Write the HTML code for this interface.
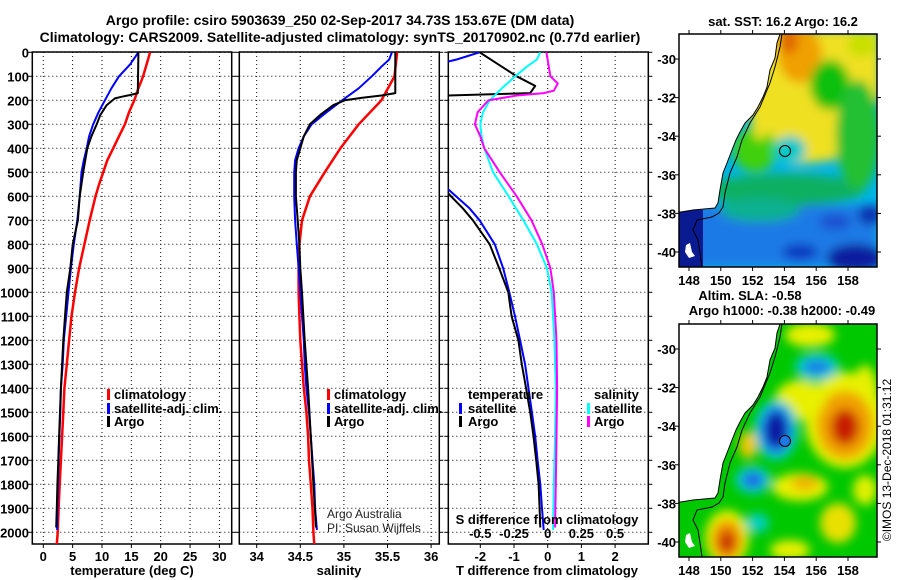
<!DOCTYPE html>
<html><head><meta charset="utf-8">
<style>
html,body{margin:0;padding:0;background:#fff;}
svg{display:block;font-family:"Liberation Sans",sans-serif;}
.b{font-weight:bold;font-size:13px;fill:#000;}
.grid{stroke:#000;stroke-width:1;stroke-dasharray:1,3;}
.frame{fill:none;stroke:#000;stroke-width:1.5;}
</style></head>
<body>
<svg id="chart" width="900" height="580" viewBox="0 0 900 580">
<defs>
<clipPath id="cp1"><rect x="32.3" y="52" width="199.4" height="492"/></clipPath>
<clipPath id="cp2"><rect x="239.3" y="52" width="200" height="492"/></clipPath>
<clipPath id="cp3"><rect x="448.3" y="52" width="200" height="492"/></clipPath>
<clipPath id="cpm"><rect x="679" y="34" width="198" height="233"/></clipPath>
<filter id="bl" x="-50%" y="-50%" width="200%" height="200%"><feGaussianBlur stdDeviation="5"/></filter>
</defs>
<text class="b" x="340" y="25" text-anchor="middle" style="font-size:14px">Argo profile: csiro 5903639_250 02-Sep-2017 34.73S 153.67E (DM data)</text>
<text class="b" x="340" y="42" text-anchor="middle" style="font-size:14px">Climatology: CARS2009. Satellite-adjusted climatology: synTS_20170902.nc (0.77d earlier)</text>
<g id="axes"></g>
<g id="series"></g>

<g>
<rect x="107" y="389" width="3" height="11" fill="#f00"/><text class="b" x="114" y="399">climatology</text>
<rect x="107" y="403" width="3" height="11" fill="#00f"/><text class="b" x="114" y="413">satellite-adj. clim.</text>
<rect x="107" y="416" width="3" height="11" fill="#000"/><text class="b" x="114" y="426">Argo</text>
</g>
<g>
<rect x="327" y="389" width="3" height="11" fill="#f00"/><text class="b" x="334" y="399">climatology</text>
<rect x="327" y="403" width="3" height="11" fill="#00f"/><text class="b" x="334" y="413">satellite-adj. clim.</text>
<rect x="327" y="416" width="3" height="11" fill="#000"/><text class="b" x="334" y="426">Argo</text>
</g>
<text x="327" y="518" style="font-size:12px" fill="#222">Argo Australia</text>
<text x="327" y="532" style="font-size:12px" fill="#222">PI: Susan Wijffels</text>
<g>
<text class="b" x="468" y="399">temperature</text>
<rect x="459" y="403" width="3" height="11" fill="#00f"/><text class="b" x="468" y="413">satellite</text>
<rect x="459" y="416" width="3" height="11" fill="#000"/><text class="b" x="468" y="426">Argo</text>
<text class="b" x="594" y="399">salinity</text>
<rect x="587" y="403" width="3" height="11" fill="#0ff"/><text class="b" x="594" y="413">satellite</text>
<rect x="587" y="416" width="3" height="11" fill="#f0f"/><text class="b" x="594" y="426">Argo</text>
</g>
<text class="b" x="547" y="524" text-anchor="middle">S difference from climatology</text>

<g>
<g clip-path="url(#cpm)">
<rect x="679" y="34" width="198" height="233" fill="#00b4e6"/>
<g filter="url(#bl)">
<rect x="679" y="205" width="198" height="62" fill="#1e7ae6"/>
<ellipse cx="855" cy="258" rx="28" ry="14" fill="#0a1e9e"/>
<ellipse cx="800" cy="252" rx="18" ry="8" fill="#1038c0"/>
<ellipse cx="835" cy="222" rx="16" ry="8" fill="#1a50d0"/>
<ellipse cx="870" cy="215" rx="12" ry="10" fill="#1030b0"/>
<ellipse cx="785" cy="190" rx="80" ry="16" fill="#10b060"/>
<ellipse cx="760" cy="210" rx="40" ry="12" fill="#10b090"/>
<path d="M765,30 L880,30 L880,100 L845,120 L835,160 L790,165 L770,140 L760,120 Z" fill="#f0e020"/>
<ellipse cx="800" cy="55" rx="22" ry="28" fill="#f0a000"/>
<ellipse cx="788" cy="40" rx="10" ry="14" fill="#e06800"/>
<ellipse cx="830" cy="85" rx="20" ry="25" fill="#10c010"/>
<ellipse cx="858" cy="135" rx="22" ry="55" fill="#20c030"/>
<ellipse cx="862" cy="45" rx="15" ry="12" fill="#c8e000"/>
<ellipse cx="755" cy="150" rx="22" ry="22" fill="#40d010"/>
<ellipse cx="790" cy="150" rx="16" ry="14" fill="#00c8c8"/>
<ellipse cx="760" cy="110" rx="10" ry="30" fill="#f0e020"/>
</g>
<rect x="679" y="210" width="24" height="57" fill="#0a1a90"/>
<path d="M679,34 L780,34 L777,43 L775,58 L770,70 L767,87 L763,97 L758,107 L753,115 L745,123 L740,132 L736,140 L732,150 L727,163 L723,173 L720,190 L718,203 L715,208 L693,210 L681,212 L679,212 Z" fill="#fff" stroke="#000" stroke-width="1"/>
<path d="M782,34 L780,47 L775,67 L770,83 L760,107 L750,123 L742,140 L737,157 L730,173 L725,193 L723,207 L719,213 L712,217 L697,220 L693,230 L698,240 L700,253 L702,267" fill="none" stroke="#000" stroke-width="1"/>
<path d="M686,245 L690,243 L692,252 L695,256 L689,258 L685,252 Z" fill="#fff"/>
<circle cx="785" cy="151" r="5.5" fill="none" stroke="#000" stroke-width="1"/>
</g>
<rect x="679" y="34" width="198" height="233" class="frame"/>
</g>
<g transform="translate(0,290)">
<g clip-path="url(#cpm)">
<rect x="679" y="34" width="198" height="233" fill="#00c800"/>
<g filter="url(#bl)">
<ellipse cx="810" cy="45" rx="25" ry="12" fill="#e8f000"/>
<ellipse cx="865" cy="110" rx="14" ry="35" fill="#e0f000"/>
<ellipse cx="845" cy="130" rx="40" ry="48" fill="#e8f000"/>
<ellipse cx="845" cy="135" rx="28" ry="34" fill="#f0a000"/>
<ellipse cx="845" cy="137" rx="14" ry="18" fill="#c81e00"/>
<ellipse cx="800" cy="110" rx="25" ry="20" fill="#e8f000"/>
<ellipse cx="776" cy="140" rx="22" ry="30" fill="#00d0d0"/>
<ellipse cx="776" cy="140" rx="16" ry="24" fill="#1e78f0"/>
<ellipse cx="776" cy="140" rx="11" ry="18" fill="#0a14a0"/>
<ellipse cx="748" cy="155" rx="9" ry="14" fill="#f0c800"/>
<ellipse cx="753" cy="190" rx="18" ry="14" fill="#00d0d0"/>
<ellipse cx="753" cy="190" rx="11" ry="8" fill="#1e64e6"/>
<ellipse cx="817" cy="77" rx="22" ry="14" fill="#00d0d0"/>
<ellipse cx="817" cy="77" rx="14" ry="7" fill="#1e78e6"/>
<ellipse cx="800" cy="197" rx="28" ry="14" fill="#e8f000"/>
<ellipse cx="805" cy="193" rx="14" ry="7" fill="#f0b000"/>
<ellipse cx="838" cy="233" rx="18" ry="20" fill="#e8e000"/>
<ellipse cx="727" cy="248" rx="22" ry="28" fill="#e8f000"/>
<ellipse cx="727" cy="250" rx="15" ry="20" fill="#f09000"/>
<ellipse cx="727" cy="252" rx="8" ry="11" fill="#c83200"/>
<ellipse cx="757" cy="233" rx="12" ry="10" fill="#00d0c0"/>
<ellipse cx="865" cy="200" rx="12" ry="15" fill="#e0f000"/>
<ellipse cx="790" cy="260" rx="20" ry="10" fill="#e8f000"/>
</g>
<path d="M679,34 L780,34 L777,43 L775,58 L770,70 L767,87 L763,97 L758,107 L753,115 L745,123 L740,132 L736,140 L732,150 L727,163 L723,173 L720,190 L718,203 L715,208 L693,210 L681,212 L679,212 Z" fill="#fff" stroke="#000" stroke-width="1"/>
<path d="M782,34 L780,47 L775,67 L770,83 L760,107 L750,123 L742,140 L737,157 L730,173 L725,193 L723,207 L719,213 L712,217 L697,220 L693,230 L698,240 L700,253 L702,267" fill="none" stroke="#000" stroke-width="1"/>
<path d="M686,245 L690,243 L692,252 L695,256 L689,258 L685,252 Z" fill="#fff"/>
<circle cx="785" cy="151" r="5.5" fill="#1e78e6" stroke="#000" stroke-width="1"/>
</g>
<rect x="679" y="34" width="198" height="233" class="frame"/>
</g>
<text class="b" x="783" y="26" text-anchor="middle">sat. SST: 16.2 Argo: 16.2</text>
<text class="b" x="750" y="300" text-anchor="middle">Altim. SLA: -0.58</text>
<text class="b" x="782" y="315" text-anchor="middle">Argo h1000: -0.38 h2000: -0.49</text>
<text x="891" y="460" text-anchor="middle" transform="rotate(-90 891 460)" style="font-size:12px">©IMOS 13-Dec-2018 01:31:12</text>
</svg>
<script>
// ---- data ----
const depthTicks = [0,100,200,300,400,500,600,700,800,900,1000,1100,1200,1300,1400,1500,1600,1700,1800,1900,2000];
const tempTicks = [0,5,10,15,20,25,30];
const salTicks = [34,34.5,35,35.5,36];
const salTickLabels = ["34","34.5","35","35.5","36"];
const dTTicks = [-2,-1,0,1,2];
const dSTicks = [-0.5,-0.25,0,0.25,0.5];
const dSTickLabels = ["-0.5","-0.25","0","0.25","0.5"];
const latTicks = [-30,-32,-34,-36,-38,-40];
const lonTicks = [148,150,152,154,156,158];

const climTDepth = [0,100,150,200,250,300,350,400,450,500,550,600,650,700,800,900,1000,1100,1200,1300,1400,1500,1600,1700,1800,1900,2000,2050];
const climTemp = [18.2,17.0,16.2,15.5,14.6,13.9,12.9,11.9,10.9,10.2,9.5,8.9,8.4,7.9,7.0,6.1,5.4,4.8,4.4,4.0,3.6,3.4,3.2,3.0,2.8,2.6,2.45,2.3];
const climSDepth = [0,100,200,300,400,500,600,700,800,900,1000,1100,1200,1300,1400,1500,1600,1700,1800,1900,2000,2050];
const climSal = [35.61,35.58,35.43,35.17,34.96,34.78,34.61,34.52,34.49,34.48,34.48,34.49,34.5,34.52,34.54,34.57,34.59,34.6,34.62,34.64,34.65,34.66];

const satTDepth = [0,50,100,150,200,250,300,350,400,450,500,600,700,800,900,1000,1100,1200,1300,1400,1500,1600,1700,1800,1900,1990];
const satTemp = [16.2,14.8,12.9,11.6,10.5,9.4,8.5,7.8,7.4,6.9,6.5,6.2,5.8,5.2,4.7,4.3,3.9,3.5,3.3,3.0,2.9,2.75,2.6,2.5,2.4,2.35];
const satSDepth = [0,30,60,100,150,200,250,300,350,400,450,500,600,700,800,900,1000,1100,1200,1300,1400,1500,1600,1700,1800,1900,1990];
const satSal = [35.55,35.52,35.43,35.32,35.17,34.98,34.8,34.63,34.54,34.48,34.44,34.43,34.43,34.44,34.46,34.48,34.5,34.52,34.54,34.55,34.57,34.6,34.62,34.64,34.66,34.67,34.69];

const argoTDepth = [0,170,178,185,192,220,262,300,350,400,500,600,700,800,900,1000,1100,1200,1300,1400,1500,1600,1700,1800,1900,1980];
const argoTemp = [16.2,16.1,14.8,13.4,12.2,10.8,9.7,9.1,8.2,7.5,6.8,6.2,5.9,5.0,4.6,4.0,3.7,3.4,3.2,3.0,2.85,2.7,2.55,2.4,2.3,2.2];
const argoSDepth = [0,170,180,190,200,220,260,300,350,400,450,500,600,700,800,900,1000,1200,1400,1600,1800,1980];
const argoSal = [35.59,35.59,35.43,35.2,35.01,34.88,34.73,34.61,34.54,34.5,34.46,34.45,34.45,34.47,34.49,34.5,34.52,34.55,34.59,34.62,34.65,34.68];

const dTSatDepth = [0,30,40,100,200,300,400,500,565,600,650,700,800,900,1000,1100,1200,1300,1400,1500,1600,1700,1800,1900,1990];
const dTSat = [-2.02,-2.7,-3.0,-4.5,-5.3,-5.3,-4.3,-3.5,-3.0,-2.72,-2.32,-2.02,-1.57,-1.32,-1.14,-0.97,-0.82,-0.67,-0.57,-0.47,-0.37,-0.3,-0.22,-0.17,-0.12];
const dTArgoDepth = [0,50,100,140,170,180,200,300,400,500,580,600,650,700,800,900,1000,1100,1200,1300,1400,1500,1600,1700,1800,1900,1980];
const dTArgo = [-2.02,-1.47,-0.92,-0.37,-0.52,-2.97,-3.6,-5.3,-4.2,-3.3,-3.0,-2.87,-2.52,-2.22,-1.72,-1.44,-1.17,-1.07,-0.87,-0.77,-0.64,-0.52,-0.42,-0.34,-0.27,-0.24,-0.22];
const dSSatDepth = [0,30,60,100,150,200,250,300,350,400,500,600,700,800,900,1000,1200,1400,1600,1800,1990];
const dSSat = [-0.055,-0.08,-0.155,-0.24,-0.34,-0.43,-0.48,-0.5,-0.49,-0.47,-0.405,-0.29,-0.18,-0.08,-0.005,0.03,0.05,0.06,0.055,0.045,0.04];
const dSArgoDepth = [0,100,130,160,170,180,200,250,300,350,400,500,600,700,800,900,1000,1200,1400,1600,1800,1980];
const dSArgo = [-0.01,0.02,0.075,0.045,-0.03,-0.23,-0.44,-0.52,-0.54,-0.5,-0.47,-0.355,-0.23,-0.12,-0.04,0.02,0.045,0.065,0.07,0.065,0.06,0.055];

// ---- scales ----
const yD = d => 52.3 + d * 0.24;
const xT = t => 43.3 + t * 5.87;
const xS = s => 256.7 + (s - 34) * 87.2;
const xDT = t => 547.7 + t * 33.7;
const xDS = s => 547.7 + s * 134.8;
const mapX = lon => 689 + (lon - 148) * 15.9;
const mapY = lat => 59 + (-30 - lat) * 19.3;

const NS = "http://www.w3.org/2000/svg";
const axes = document.getElementById('axes');
const series = document.getElementById('series');
function mk(tag, attrs, parent, txt) {
  const e = document.createElementNS(NS, tag);
  for (const k in attrs) e.setAttribute(k, attrs[k]);
  if (txt !== undefined) e.textContent = txt;
  parent.appendChild(e);
  return e;
}
const panels = [
  {x0:32.3, x1:231.7, ticks:tempTicks, labels:tempTicks.map(String), fx:xT, title:"temperature (deg C)", tx:132, name:"temperature"},
  {x0:239.3, x1:439.3, ticks:salTicks, labels:salTickLabels, fx:xS, title:"salinity", tx:339, name:"salinity"},
  {x0:448.3, x1:648.3, ticks:dTTicks, labels:dTTicks.map(String), fx:xDT, title:"T difference from climatology", tx:547, name:"difference"}
];
panels.forEach((p, i) => {
  const g = mk('g', {}, axes);
  
  
  depthTicks.forEach(d => {
    const gl = mk('line', {x1:p.x0, x2:p.x1, y1:yD(d), y2:yD(d), class:'grid'}, g);
    
    
    mk('line', {x1:p.x0-4, x2:p.x0, y1:yD(d), y2:yD(d), stroke:'#000'}, g);
    mk('line', {x1:p.x1, x2:p.x1+4, y1:yD(d), y2:yD(d), stroke:'#000'}, g);
  });
  p.ticks.forEach((t, j) => {
    const x = p.fx(t);
    const gl = mk('line', {x1:x, x2:x, y1:52, y2:544, class:'grid'}, g);
    
    
    mk('line', {x1:x, x2:x, y1:544, y2:548, stroke:'#000'}, g);
    const tl = mk('text', {x:x, y:561, class:'b', 'text-anchor':'middle'}, g, p.labels[j]);
    
    
  });
  const at = mk('text', {x:p.tx, y:575, class:'b', 'text-anchor':'middle'}, g, p.title);
  
  
  const fr = mk('rect', {x:p.x0, y:52, width:p.x1-p.x0, height:492, class:'frame'}, g);
  
  
});
depthTicks.forEach(d => {
  const t = mk('text', {x:29, y:yD(d)+5, class:'b', 'text-anchor':'end'}, axes, String(d));
  
  
});
dSTicks.forEach((s, j) => {
  const t = mk('text', {x:xDS(s), y:538, class:'b', 'text-anchor':'middle'}, axes, dSTickLabels[j]);
  
  
});
[0, 290].forEach((off, m) => {
  latTicks.forEach(lat => {
    const y = mapY(lat) + off;
    mk('line', {x1:679, x2:675, y1:y, y2:y, stroke:'#000'}, axes);
    mk('line', {x1:877, x2:881, y1:y, y2:y, stroke:'#000'}, axes);
    const t = mk('text', {x:676, y:y+5, class:'b', 'text-anchor':'end'}, axes, String(lat));
    
    
  });
  lonTicks.forEach(lon => {
    const x = mapX(lon);
    mk('line', {x1:x, x2:x, y1:267+off, y2:271+off, stroke:'#000'}, axes);
    mk('line', {x1:x, x2:x, y1:34+off, y2:30+off, stroke:'#000'}, axes);
    const t = mk('text', {x:x, y:285+off, class:'b', 'text-anchor':'middle'}, axes, String(lon));
    
    
  });
});
function line(depths, vals, fx, color, clip, name, w) {
  const pts = depths.map((d, i) => fx(vals[i]).toFixed(1) + ',' + yD(d).toFixed(1)).join(' ');
  const pl = mk('polyline', {points:pts, fill:'none', stroke:color, 'stroke-width':w||2, 'clip-path':'url(#' + clip + ')', 'stroke-linejoin':'round'}, series);
  
  
}
line(climTDepth, climTemp, xT, '#f00', 'cp1', 'temperature-climatology-line', 2.5);
line(satTDepth, satTemp, xT, '#00f', 'cp1', 'temperature-satellite-line', 2);
line(argoTDepth, argoTemp, xT, '#000', 'cp1', 'temperature-argo-line', 2);
line(climSDepth, climSal, xS, '#f00', 'cp2', 'salinity-climatology-line', 2.5);
line(satSDepth, satSal, xS, '#00f', 'cp2', 'salinity-satellite-line', 2);
line(argoSDepth, argoSal, xS, '#000', 'cp2', 'salinity-argo-line', 2);
line(dTSatDepth, dTSat, xDT, '#00f', 'cp3', 't-diff-satellite-line', 2);
line(dTArgoDepth, dTArgo, xDT, '#000', 'cp3', 't-diff-argo-line', 2);
line(dSSatDepth, dSSat, xDS, '#0ff', 'cp3', 's-diff-satellite-line', 2);
line(dSArgoDepth, dSArgo, xDS, '#f0f', 'cp3', 's-diff-argo-line', 2);
</script>
</body></html>
